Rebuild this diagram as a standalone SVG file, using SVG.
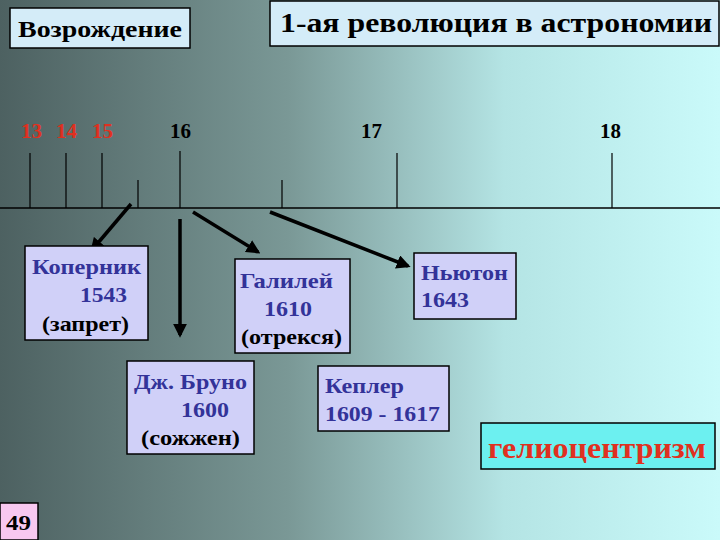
<svg xmlns="http://www.w3.org/2000/svg" width="720" height="540" viewBox="0 0 720 540" font-family="'Liberation Serif','DejaVu Serif','Noto Serif',serif" font-weight="bold">
<defs>
<linearGradient id="bg" x1="0" y1="0" x2="1" y2="0">
<stop offset="0" stop-color="#4d6161"/>
<stop offset="0.4" stop-color="#7a9896"/>
<stop offset="0.7" stop-color="#b4e4e4"/>
<stop offset="1" stop-color="#cafafa"/>
</linearGradient>
<marker id="ah" viewBox="0 0 10 10" refX="8" refY="5" markerWidth="4" markerHeight="4" orient="auto" markerUnits="strokeWidth">
<path d="M0,0 L10,5 L0,10 Z" fill="#000"/>
</marker>
<style>
.box{fill:#d0d0f8;stroke:#000;stroke-width:1.5}
.b{fill:#333399;font-size:21px}
.k{fill:#000;font-size:21px}
.tick{stroke:#000;stroke-width:1.2}
.arr{stroke:#000;stroke-width:3.5;marker-end:url(#ah)}
</style>
</defs>
<rect width="720" height="540" fill="url(#bg)"/>
<g id="renaissance"><rect x="10" y="8" width="180" height="40" fill="#d4ecf8" stroke="#000" stroke-width="1.5"/><text x="18" y="37" font-size="23" fill="#000" textLength="164" lengthAdjust="spacingAndGlyphs">Возрождение</text></g>
<g id="title"><rect x="270" y="1" width="449" height="45" fill="#d4ecf8" stroke="#000" stroke-width="1.5"/><text x="280" y="32" font-size="27" fill="#000" textLength="432" lengthAdjust="spacingAndGlyphs">1-ая революция в астрономии</text></g>
<g id="centuries" font-size="21">
<text x="21" y="138" fill="#e03020">13</text>
<text x="56" y="138" fill="#e03020">14</text>
<text x="92" y="138" fill="#e03020">15</text>
<text x="170" y="138" fill="#000">16</text>
<text x="361" y="138" fill="#000">17</text>
<text x="600" y="138" fill="#000">18</text>
</g>
<g id="axis">
<line x1="0" y1="208" x2="720" y2="208" stroke="#000" stroke-width="1.5"/>
<line class="tick" x1="30" y1="153" x2="30" y2="208"/>
<line class="tick" x1="66" y1="153" x2="66" y2="208"/>
<line class="tick" x1="102" y1="153" x2="102" y2="208"/>
<line class="tick" x1="138" y1="180" x2="138" y2="208"/>
<line class="tick" x1="180" y1="151" x2="180" y2="208"/>
<line class="tick" x1="282" y1="180" x2="282" y2="208"/>
<line class="tick" x1="397" y1="153" x2="397" y2="208"/>
<line class="tick" x1="612" y1="153" x2="612" y2="208"/>
</g>
<g id="connectors">
<line class="arr" x1="131" y1="204" x2="92" y2="250"/>
<line class="arr" x1="180" y1="219" x2="180" y2="335"/>
<line class="arr" x1="193" y1="212" x2="258" y2="252"/>
<line class="arr" x1="270" y1="212" x2="408" y2="266"/>
</g>
<g id="copernicus"><rect class="box" x="25" y="246" width="123" height="94"/>
<text class="b" x="32" y="274" textLength="109" lengthAdjust="spacingAndGlyphs">Коперник</text>
<text class="b" x="80" y="302" textLength="47" lengthAdjust="spacingAndGlyphs">1543</text>
<text class="k" x="42" y="331" textLength="87" lengthAdjust="spacingAndGlyphs">(запрет)</text></g>
<g id="galileo"><rect class="box" x="235" y="259" width="115" height="94"/>
<text class="b" x="240" y="288" textLength="93" lengthAdjust="spacingAndGlyphs">Галилей</text>
<text class="b" x="264" y="316" textLength="48" lengthAdjust="spacingAndGlyphs">1610</text>
<text class="k" x="241" y="344" textLength="101" lengthAdjust="spacingAndGlyphs">(отрекся)</text></g>
<g id="bruno"><rect class="box" x="127" y="361" width="127" height="93"/>
<text class="b" x="134" y="389" textLength="113" lengthAdjust="spacingAndGlyphs">Дж. Бруно</text>
<text class="b" x="181" y="417" textLength="48" lengthAdjust="spacingAndGlyphs">1600</text>
<text class="k" x="141" y="445" textLength="99" lengthAdjust="spacingAndGlyphs">(сожжен)</text></g>
<g id="newton"><rect class="box" x="414" y="253" width="102" height="66"/>
<text class="b" x="421" y="280" textLength="87" lengthAdjust="spacingAndGlyphs">Ньютон</text>
<text class="b" x="421" y="307" textLength="48" lengthAdjust="spacingAndGlyphs">1643</text></g>
<g id="kepler"><rect class="box" x="318" y="366" width="131" height="65"/>
<text class="b" x="325" y="393" textLength="79" lengthAdjust="spacingAndGlyphs">Кеплер</text>
<text class="b" x="325" y="421" textLength="115" lengthAdjust="spacingAndGlyphs">1609 - 1617</text></g>
<g id="helio"><rect x="481" y="423" width="234" height="46" fill="#6cf0f0" stroke="#000" stroke-width="1.5"/>
<text x="488" y="458" fill="#e03020" font-size="29" textLength="218" lengthAdjust="spacingAndGlyphs">гелиоцентризм</text></g>
<g id="page"><rect x="0" y="503" width="38" height="37" fill="#f8c8f0" stroke="#000" stroke-width="1.5"/>
<text x="6" y="530" fill="#000" font-size="20" textLength="25" lengthAdjust="spacingAndGlyphs">49</text></g>
</svg>
